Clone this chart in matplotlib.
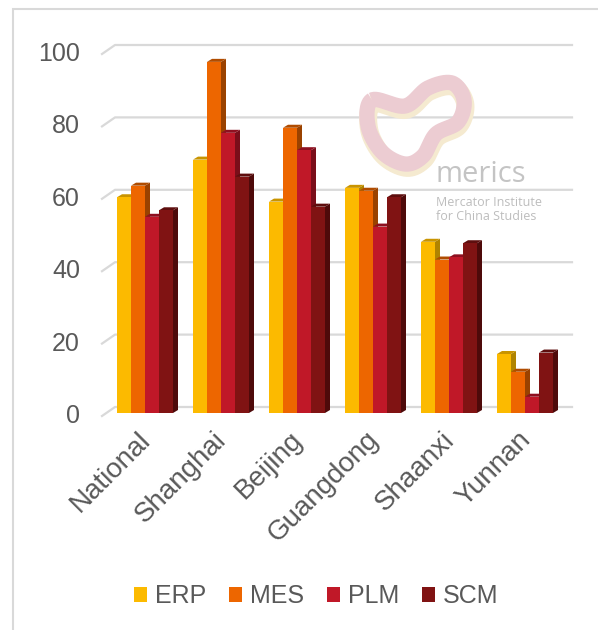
import matplotlib
matplotlib.use('Agg')
import matplotlib.pyplot as plt
import numpy as np
from matplotlib.patches import Polygon, Patch, PathPatch, Rectangle
from matplotlib.path import Path

# --- data ---
regions = ['National', 'Shanghai', 'Beijing', 'Guangdong', 'Shaanxi', 'Yunnan']
series = ['ERP', 'MES', 'PLM', 'SCM']
erp = [59.6, 70.0, 58.4, 62.2, 47.3, 16.3]
mes = [62.8, 97.0, 78.8, 61.4, 42.4, 11.4]
plm = [54.2, 77.4, 72.6, 51.5, 43.0, 4.5]
scm = [56.0, 65.3, 57.0, 59.6, 46.9, 16.7]
yticks = [0, 20, 40, 60, 80, 100]

front = ['#FCBA00', '#ED6600', '#C01828', '#801313']
top = ['#C99400', '#B04C00', '#8E1020', '#5E0E0E']
side = ['#B08400', '#9A4200', '#7A0E1A', '#4E0A0A']

W, H = 598, 630
fig = plt.figure(figsize=(W / 100, H / 100), dpi=100)
plt.rcParams['font.family'] = ['Liberation Sans', 'DejaVu Sans']

# outer border (only left/top visible in the crop)
fig.patches.append(Rectangle((13 / W, -0.1), 1.2, (H - 9) / H + 0.1, transform=fig.transFigure,
                             fill=False, edgecolor='#d9d9d9', linewidth=1.5))

ax = fig.add_axes([107 / W, (H - 413) / H, 456 / W, 362 / H])
ax.set_xlim(-0.5, 5.5)
ax.set_ylim(0, 100)
ax.axis('off')

pxx = 1 / 76.0     # data units per pixel in x
pxy = 100 / 362.0  # data units per pixel in y

# back-wall gridlines with slanted left edge
for v in yticks:
    ax.plot([-0.5 - 5 * pxx, -0.5 + 8 * pxx, 5.5 + 9 * pxx],
            [v - 3 * pxy, v + 6 * pxy, v + 6 * pxy],
            color='#d9d9d9', lw=1.6, clip_on=False, zorder=0)
    ax.text(-0.5 - 27 * pxx, v - 3 * pxy, str(v), ha='right', va='center',
            fontsize=18, color='#595959')

# 3D-looking bars
bw = 14 * pxx
dx, dy = 5 * pxx, 3 * pxy
data = [erp, mes, plm, scm]
z = 2
for i in range(len(regions)):
    for k, vals in enumerate(data):
        x0 = i + (k - 2) * bw
        x1 = x0 + bw
        v = vals[i]
        ax.add_patch(Polygon([(x1, 0), (x1 + dx, dy), (x1 + dx, v + dy), (x1, v)],
                             closed=True, facecolor=side[k], edgecolor='none', zorder=z))
        ax.add_patch(Polygon([(x0, v), (x1, v), (x1 + dx, v + dy), (x0 + dx, v + dy)],
                             closed=True, facecolor=top[k], edgecolor='none', zorder=z))
        ax.bar(x0, v, width=bw, align='edge', color=front[k], zorder=z + 0.5)
        z += 1

# category labels
for i, name in enumerate(regions):
    ax.text(i + 0.02, -23 * pxy, name, rotation=45, rotation_mode='anchor',
            ha='right', va='center', fontsize=20, color='#595959')

# watermark logo
def smooth_closed(pts, n=30):
    pts = np.asarray(pts, float)
    m = len(pts)
    out = []
    for j in range(m):
        p0, p1, p2, p3 = pts[j - 1], pts[j], pts[(j + 1) % m], pts[(j + 2) % m]
        for t in np.linspace(0, 1, n, endpoint=False):
            out.append(0.5 * ((2 * p1) + (-p0 + p2) * t + (2 * p0 - 5 * p1 + 4 * p2 - p3) * t ** 2
                              + (-p0 + 3 * p1 - 3 * p2 + p3) * t ** 3))
    out.append(out[0])
    return np.array(out)

ring = [(372, 100), (405, 106), (428, 88), (452, 83), (464, 100), (458, 122),
        (436, 134), (423, 156), (405, 164), (382, 152), (368, 126)]
cur = smooth_closed(ring)
xy = np.column_stack([cur[:, 0] / W, 1 - cur[:, 1] / H])
fig.patches.append(PathPatch(Path(xy + [0.002, -0.006]), transform=fig.transFigure, fill=False,
                             edgecolor='#f5ead0', lw=13, zorder=0.5))
fig.patches.append(PathPatch(Path(xy), transform=fig.transFigure, fill=False,
                             edgecolor='#ecccd2', lw=11, zorder=0.6))
fig.text(436 / W, 1 - 174 / H, 'merics', fontsize=21, color='#c4c4c4',
         family=['Open Sans', 'DejaVu Sans'], va='center', ha='left', zorder=1)
fig.text(436 / W, 1 - 203 / H, 'Mercator Institute', fontsize=9, color='#bdbdbd',
         family=['Open Sans', 'DejaVu Sans'], va='center', ha='left', zorder=1)
fig.text(436 / W, 1 - 217 / H, 'for China Studies', fontsize=9, color='#bdbdbd',
         family=['Open Sans', 'DejaVu Sans'], va='center', ha='left', zorder=1)

# legend
handles = [Patch(facecolor=c, edgecolor='none', label=s) for c, s in zip(front, series)]
fig.legend(handles=handles, loc='center', bbox_to_anchor=(316 / W, 1 - 596 / H), ncol=4,
           frameon=False, fontsize=18, labelcolor='#595959', handlelength=0.55,
           handleheight=0.55, handletextpad=0.3, columnspacing=0.9)

plt.savefig('out.png', dpi=100)
